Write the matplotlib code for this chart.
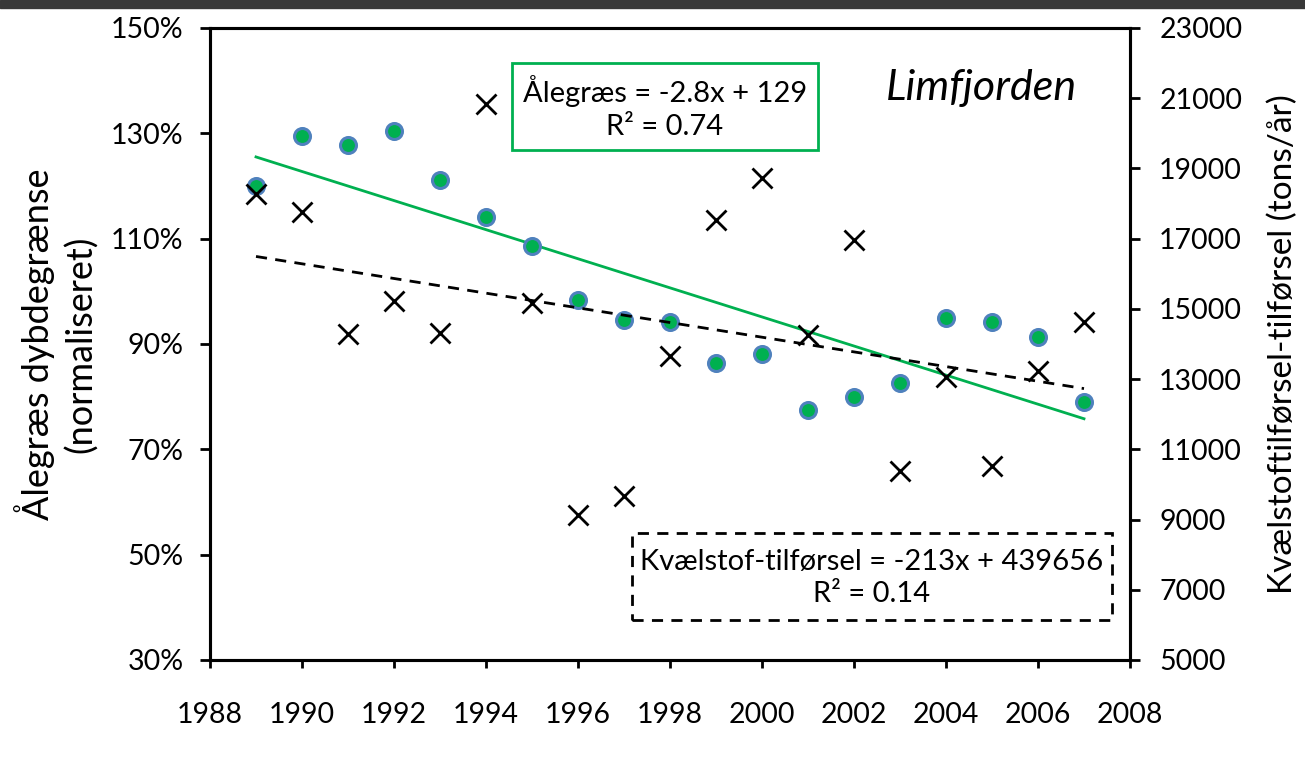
import numpy as np
import matplotlib
matplotlib.use("Agg")
import matplotlib.pyplot as plt
from matplotlib.patches import Rectangle

years = [1989, 1990, 1991, 1992, 1993, 1994, 1995, 1996, 1997, 1998,
         1999, 2000, 2001, 2002, 2003, 2004, 2005, 2006, 2007]
alegraes_pct = [120.0, 129.5, 127.8, 130.4, 121.1, 114.1, 108.6, 98.4, 94.6, 94.2,
                86.4, 88.1, 77.5, 79.9, 82.6, 94.9, 94.2, 91.3, 79.0]
kvaelstof = [18272, 17760, 14285, 15225, 14313, 20835, 15168, 9130, 9671, 13658,
             17532, 18728, 14256, 16962, 10383, 13060, 10525, 13231, 14627]
x_ticks = list(range(1988, 2009, 2))
left_ticks = [30, 50, 70, 90, 110, 130, 150]
right_ticks = list(range(5000, 23001, 2000))

eq_green = "Ålegræs = -2.8x + 129\nR² = 0.74"
eq_black = "Kvælstof-tilførsel = -213x + 439656\nR² = 0.14"

plt.rcParams['font.family'] = ['Lato', 'DejaVu Sans']
FS_TICK = 20.5
FS_BOX = 21

fig = plt.figure(figsize=(13.05, 7.6), dpi=100)
fig.patches.append(Rectangle((0, 1 - 8 / 760), 1, 8 / 760, transform=fig.transFigure,
                             color='#383838', zorder=0))
ax = fig.add_axes([210 / 1305, 1 - 660 / 760, 920 / 1305, 632 / 760])
ax2 = ax.twinx()

yrs = np.array(years, dtype=float)
a = np.array(alegraes_pct)
k = np.array(kvaelstof, dtype=float)

# green trend
pg = np.polyfit(yrs, a, 1)
ax.plot([yrs[0], yrs[-1]], np.polyval(pg, [yrs[0], yrs[-1]]), color='#00B050', lw=2, zorder=2)
ax.plot(yrs, a, 'o', ms=11.5, mfc='#00B050', mec='#4F81BD', mew=2.2, zorder=3, linestyle='none')

pk = np.polyfit(yrs, k, 1)
ax2.plot([yrs[0], yrs[-1]], np.polyval(pk, [yrs[0], yrs[-1]]), color='black', lw=2,
         linestyle=(0, (4, 3)), zorder=2)
ax2.plot(yrs, k, 'x', ms=14, mec='black', mew=2, linestyle='none', zorder=3)

ax.set_xlim(1988, 2008)
ax.set_ylim(30, 150)
ax2.set_ylim(5000, 23000)
ax.set_xticks(x_ticks)
ax.set_yticks(left_ticks)
ax.set_yticklabels([f"{v}%" for v in left_ticks])
ax2.set_yticks(right_ticks)
ax2.set_yticklabels([str(v) for v in right_ticks])

for a_ in (ax, ax2):
    for s in a_.spines.values():
        s.set_linewidth(2.2)
        s.set_color('black')
ax.tick_params(axis='x', labelsize=FS_TICK, width=2, length=6, direction='out', pad=24)
ax.tick_params(axis='y', labelsize=FS_TICK, width=2, length=7, direction='out', pad=12)
ax2.tick_params(axis='y', labelsize=FS_TICK, width=2, length=7, direction='out', pad=14)

ax.set_ylabel("Ålegræs dybdegrænse\n(normaliseret)", fontsize=26, linespacing=1.3)
ax.yaxis.set_label_coords(-0.122, 0.5)
ax2.set_ylabel("Kvælstoftilførsel-tilførsel (tons/år)", fontsize=24)
ax2.yaxis.set_label_coords(1.150, 0.5)

# green equation box
ax.add_patch(Rectangle((0.328, 0.807), 0.333, 0.138, transform=ax.transAxes, fill=False,
                       edgecolor='#00B050', lw=2, zorder=4))
ax.text(0.4946, 0.874, eq_green, transform=ax.transAxes, ha='center', va='center',
        fontsize=FS_BOX, linespacing=1.3, multialignment='center', zorder=5)

# black dashed equation box
ax.add_patch(Rectangle((0.4587, 0.063), 0.5213, 0.138, transform=ax.transAxes, fill=False,
                       edgecolor='black', lw=2, linestyle=(0, (4, 3)), zorder=4))
ax.text(0.7196, 0.130, eq_black, transform=ax.transAxes, ha='center', va='center',
        fontsize=FS_BOX, linespacing=1.3, multialignment='center', zorder=5)

ax.text(0.839, 0.905, "Limfjorden", transform=ax.transAxes, ha='center', va='center',
        fontsize=31, style='italic')

fig.savefig("out.png", dpi=100)
